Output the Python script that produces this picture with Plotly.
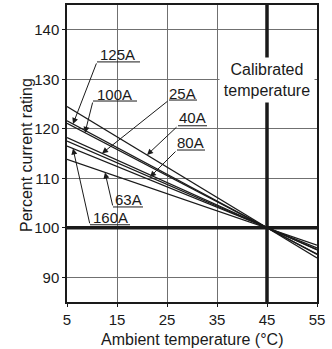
import numpy as np
import plotly.graph_objects as go

# ---- data ----
temperature_c = [5, 45, 55]
rating_40A = [124.5, 100, 93.9]
rating_125A = [121.6, 100, 94.6]
rating_100A = [121.1, 100, 94.7]
rating_25A = [118.2, 100, 95.5]
rating_80A = [117.5, 100, 95.6]
rating_160A = [116.5, 100, 95.9]
rating_63A = [113.8, 100, 96.5]

series = {
    "40A": rating_40A,
    "125A": rating_125A,
    "100A": rating_100A,
    "25A": rating_25A,
    "80A": rating_80A,
    "160A": rating_160A,
    "63A": rating_63A,
}

x_ticks = [5, 15, 25, 35, 45, 55]
y_ticks = [90, 100, 110, 120, 130, 140]
calibrated_temp = 45
reference_pct = 100

# ---- label layout (data coords): text pos, underline x-span, tip x ----
labels = {
    "125A": dict(tx=15.0, ty=135.1, ux=(11.0, 19.6), uy=133.5, tip=6.2),
    "100A": dict(tx=14.4, ty=127.0, ux=(10.2, 19.0), uy=125.6, tip=8.6),
    "25A": dict(tx=28.0, ty=127.2, ux=(25.4, 31.0), uy=125.8, tip=12.0),
    "40A": dict(tx=30.0, ty=122.3, ux=(27.2, 33.0), uy=120.6, tip=21.0),
    "80A": dict(tx=29.6, ty=117.3, ux=(27.0, 32.6), uy=115.7, tip=21.6),
    "63A": dict(tx=17.2, ty=105.8, ux=(14.2, 20.2), uy=104.2, tip=12.6),
    "160A": dict(tx=13.6, ty=102.1, ux=(9.6, 17.6), uy=100.6, tip=6.2),
}

FONT = "Liberation Sans, Arial, Helvetica, sans-serif"
INK = "#1a1a1a"

fig = go.Figure()
for name, vals in series.items():
    fig.add_trace(go.Scatter(x=temperature_c, y=vals, mode="lines", name=name,
                             line=dict(color=INK, width=1.25), showlegend=False,
                             hoverinfo="skip"))

shapes = [
    dict(type="line", xref="x", yref="y", x0=calibrated_temp, x1=calibrated_temp,
         y0=85, y1=145, line=dict(color=INK, width=3.5), layer="between"),
    dict(type="line", xref="x", yref="y", x0=5, x1=55,
         y0=reference_pct, y1=reference_pct, line=dict(color=INK, width=3.5), layer="between"),
]
annotations = []
for name, lb in labels.items():
    vals = series[name]
    tip_y = float(np.interp(lb["tip"], temperature_c, vals))
    annotations.append(dict(x=lb["tx"], y=lb["ty"], xref="x", yref="y", text=name,
                            showarrow=False, font=dict(size=15, color=INK, family=FONT)))
    shapes.append(dict(type="line", xref="x", yref="y", x0=lb["ux"][0], x1=lb["ux"][1],
                       y0=lb["uy"], y1=lb["uy"], line=dict(color=INK, width=1), layer="above"))
    annotations.append(dict(x=lb["tip"], y=tip_y, xref="x", yref="y", text="",
                            ax=lb["ux"][0], ay=lb["uy"], axref="x", ayref="y",
                            showarrow=True, arrowhead=2, arrowsize=1.2, arrowwidth=1,
                            arrowcolor=INK, standoff=0, startstandoff=0))

annotations.append(dict(x=calibrated_temp, y=129.9, xref="x", yref="y",
                        text="Calibrated<br>temperature", showarrow=False,
                        bgcolor="white", borderpad=3, width=88,
                        font=dict(size=16, color=INK, family=FONT)))

# axis titles
annotations.append(dict(x=0.5, y=-0.1246, xref="paper", yref="paper",
                        text="Ambient temperature (°C)", showarrow=False,
                        xanchor="center", yanchor="middle",
                        font=dict(size=16, color=INK, family=FONT)))
annotations.append(dict(x=-0.16, y=0.495, xref="paper", yref="paper",
                        text="Percent current rating", showarrow=False, textangle=-90,
                        xanchor="center", yanchor="middle",
                        font=dict(size=16, color=INK, family=FONT)))

fig.update_layout(
    width=332, height=349, autosize=False,
    margin=dict(l=67, r=15, t=5, b=47),
    paper_bgcolor="white", plot_bgcolor="white",
    font=dict(family=FONT, size=15, color=INK),
    shapes=shapes, annotations=annotations,
    xaxis=dict(range=[5, 55], tickvals=x_ticks, showgrid=True, gridcolor="#707070",
               gridwidth=1, zeroline=False, showline=True, mirror=True, automargin=False,
               linecolor=INK, linewidth=1.5, ticks="outside", ticklen=3,
               tickcolor=INK, tickfont=dict(size=15)),
    yaxis=dict(range=[85, 145], tickvals=y_ticks, showgrid=True, gridcolor="#707070",
               gridwidth=1, zeroline=False, showline=True, mirror=True, automargin=False,
               linecolor=INK, linewidth=1.5, ticks="outside", ticklen=3,
               tickcolor=INK, tickfont=dict(size=15)),
)

fig.write_html("out.html", config={"displayModeBar": False},
               post_script="document.body.style.margin='0';document.body.style.overflow='hidden';")
